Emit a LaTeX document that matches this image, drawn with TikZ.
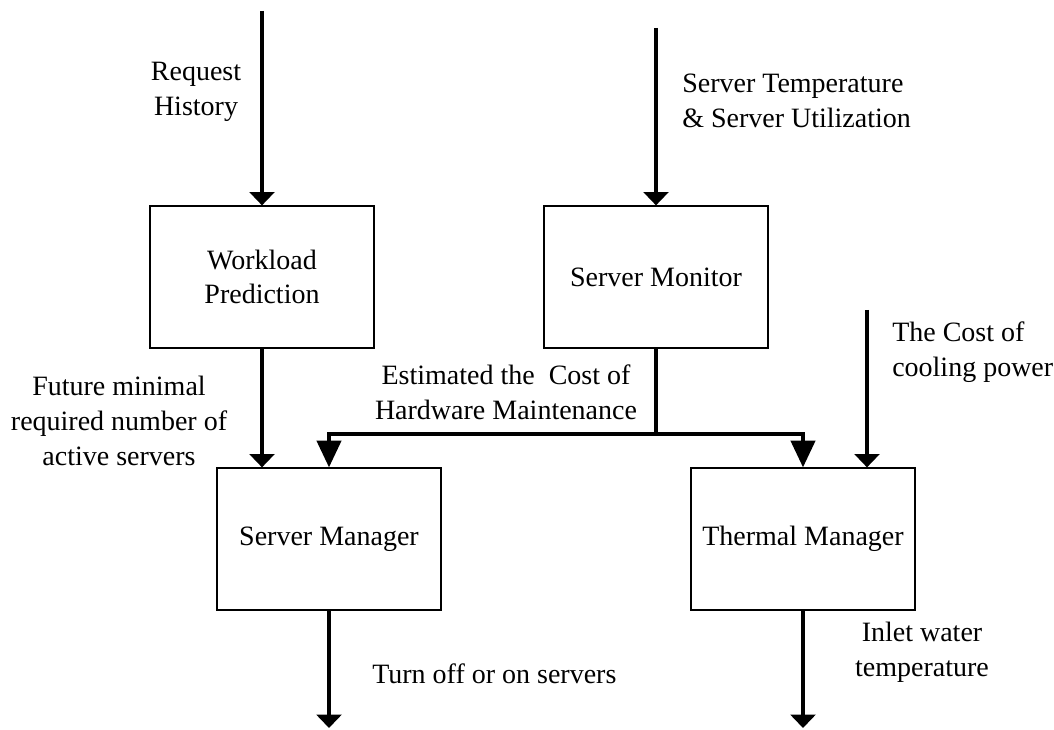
\documentclass[tikz,border=0pt]{standalone}
\usepackage{fontspec}
\setmainfont{Liberation Serif}
\usepackage{tikz}
\usetikzlibrary{positioning,arrows.meta}
\tikzset{
  block/.style    = {shape=rectangle, draw, line width=0.9pt, align=center,
                     minimum width=168pt, minimum height=106.5pt},
  txt/.style      = {align=center, inner sep=0pt},
  txtleft/.style  = {align=left, inner sep=0pt},
  flow/.style     = {draw, line width=3pt,
                     -{Triangle[length=10pt,width=18.5pt]}},
  flowlong/.style = {draw, line width=3pt,
                     -{Triangle[length=20pt,width=18pt]}}
}

\begin{document}
\begin{tikzpicture}
  [
    x = 0.75pt, y = -0.75pt,
    every node/.style = {font=\fontsize{21}{26}\selectfont}
  ]
  \useasboundingbox (0,0) rectangle (1054,730);

  % the four blocks
  \node [block] (workload) at (262,277) {Workload\\Prediction};
  \node [block] (monitor)  at (656,277) {Server Monitor};
  \node [block] (manager)  at (329,539) {Server Manager};
  \node [block] (thermal)  at (803,539) {Thermal Manager};

  % free ends
  \coordinate (reqin)   at (262,11);
  \coordinate (tempin)  at (656,28);
  \coordinate (coolin)  at (867,310);
  \coordinate (split)   at (656,434);
  \coordinate (mgrout)  at (329,728);
  \coordinate (thout)   at (803,728);

  % connectors
  \draw [flow] (reqin) -- (workload);
  \draw [flow] (tempin) -- (monitor);
  \draw [flow] (workload.south) -- (workload.south |- manager.north);
  \draw [line width=3pt] (monitor.south) -- (split);
  \draw [flowlong] (split) -| (manager);
  \draw [flowlong] (split) -| (thermal);
  \draw [flow] (coolin) -- (coolin |- thermal.north);
  \draw [flow] (manager) -- (mgrout);
  \draw [flow] (thermal) -- (thout);

  % labels
  \node [txt] (reqlbl) at (196,92) {Request\\History};
  \node [txtleft, anchor=west] (templbl) at (682,101)
        {Server Temperature\\\& Server Utilization};
  \node [txt] (futlbl) at (119,421)
        {Future minimal\\required number of\\active servers};
  \node [txt] (costlbl) at (506,392)
        {Estimated the~ Cost of\\Hardware Maintenance};
  \node [txtleft, anchor=west] (coollbl) at (892,352)
        {The Cost of\\cooling power};
  \node [txtleft, anchor=west] (offlbl) at (372,674)
        {Turn off or on servers};
  \node [txt] (inletlbl) at (922,652) {Inlet water\\temperature};
\end{tikzpicture}
\end{document}
